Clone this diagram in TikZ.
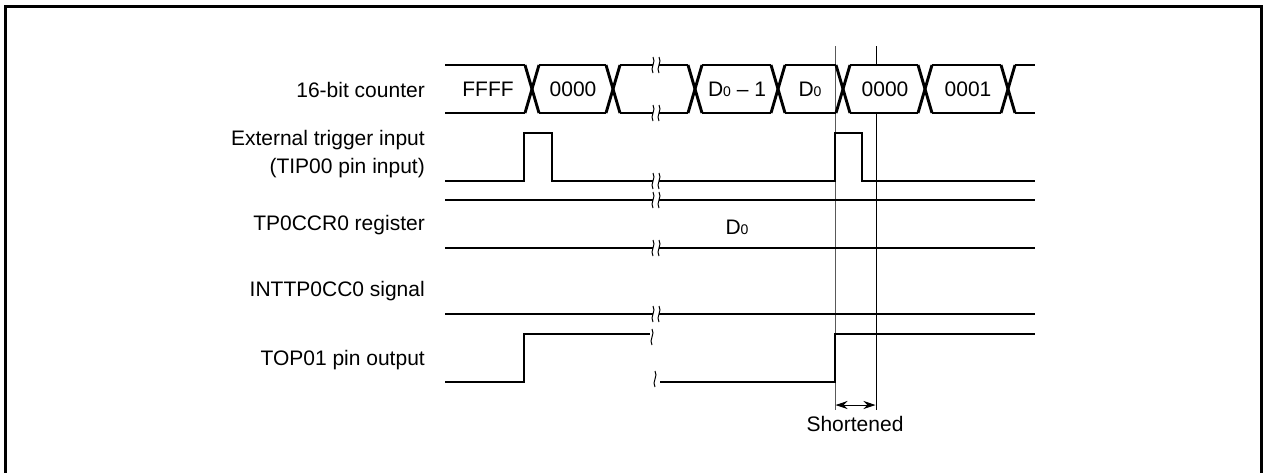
\documentclass[tikz,border=0pt]{standalone}
\usepackage{fontspec}
\setmainfont{Liberation Sans}
\usetikzlibrary{arrows.meta}
\newcommand\wavemark[2]{\draw[brk] (#1,#2-8) .. controls (#1+3.5,#2-3) and (#1-3.5,#2+3) .. (#1,#2+8);}
\newcommand\dsub{D{\fontsize{14}{14}\selectfont 0}}
\begin{document}
\begin{tikzpicture}[x=1pt,y=-1pt,
  sig/.style={line width=2.9pt, line join=miter, line cap=butt},
  lbl/.style={anchor=east, font=\fontsize{21}{25}\selectfont, inner sep=0pt, align=right},
  val/.style={font=\fontsize{21}{25}\selectfont, inner sep=0pt},
  brk/.style={line width=1pt},
  guide/.style={line width=1pt}]
\useasboundingbox (0,0) rectangle (1265,472);
% frame
\draw[line width=3pt] (5.5,480) -- (5.5,6.5) -- (1261.5,6.5) -- (1261.5,480);
% labels
\node[lbl] (lcnt) at (425,90) {16-bit counter};
\node[lbl] (ltrg1) at (425,140) {External trigger input};
\node[lbl] (ltrg2) at (425,168) {(TIP00 pin input)};
\node[lbl] (lccr) at (425,225) {TP0CCR0 register};
\node[lbl] (lint) at (425,291) {INTTP0CC0 signal};
\node[lbl] (ltop) at (425,360) {TOP01 pin output};
% guides
\coordinate (g1t) at (835,46); \coordinate (g1b) at (835,410);
\coordinate (g2t) at (876,46); \coordinate (g2m) at (876,65);
\coordinate (g2n) at (876,113); \coordinate (g2b) at (876,410);
\draw[guide, black!65] (g1t) -- (g1b);
\draw[guide] (g2t) -- (g2m);
\draw[guide] (g2n) -- (g2b);
% counter row
\foreach \a/\b in {445/525,539/606,620/653,659/688,702/771,785/836,850/918,932/1001,1015/1035}{
  \draw[sig] (\a,65) -- (\b,65);
  \draw[sig] (\a,113) -- (\b,113);
}
\foreach \c in {532,613,695,778,843,925,1008}{
  \draw[sig] (\c-7,65) -- (\c+7,113);
  \draw[sig] (\c-7,113) -- (\c+7,65);
}
\wavemark{653}{65}\wavemark{659}{65}
\wavemark{653}{113}\wavemark{659}{113}
\node[val] (v1) at (488,89) {FFFF};
\node[val] (v2) at (573,89) {0000};
\node[val] (v3) at (737,89) {\dsub\ -- 1};
\node[val] (v4) at (810,89) {\dsub};
\node[val] (v5) at (885,89) {0000};
\node[val] (v6) at (968,89) {0001};
% trigger row
\draw[sig] (445,181) -- (524,181) -- (524,133) -- (552,133) -- (552,181) -- (653,181);
\draw[sig] (659,181) -- (835,181) -- (835,133) -- (862,133) -- (862,181) -- (1035,181);
\wavemark{653}{181}\wavemark{659}{181}
% TP0CCR0 row
\draw[sig] (445,200) -- (653,200); \draw[sig] (659,200) -- (1035,200);
\draw[sig] (445,248) -- (653,248); \draw[sig] (659,248) -- (1035,248);
\wavemark{653}{200}\wavemark{659}{200}
\wavemark{653}{248}\wavemark{659}{248}
\node[val] (v7) at (737,227) {\dsub};
% INTTP0CC0 row
\draw[sig] (445,314) -- (653,314); \draw[sig] (659,314) -- (1035,314);
\wavemark{653}{314}\wavemark{659}{314}
% TOP01 row
\draw[sig] (445,382) -- (524,382) -- (524,334) -- (650,334);
\draw[sig] (660,382) -- (835,382) -- (835,334) -- (1035,334);
\wavemark{652}{337}\wavemark{655}{379}
% shortened arrow
\coordinate (a1) at (835.5,405); \coordinate (a2) at (875.5,405);
\draw[line width=1pt, {Stealth[length=12pt,width=8pt]}-{Stealth[length=12pt,width=8pt]}] (a1) -- (a2);
\node[val] (short) at (855,424) {Shortened};
\end{tikzpicture}
\end{document}
